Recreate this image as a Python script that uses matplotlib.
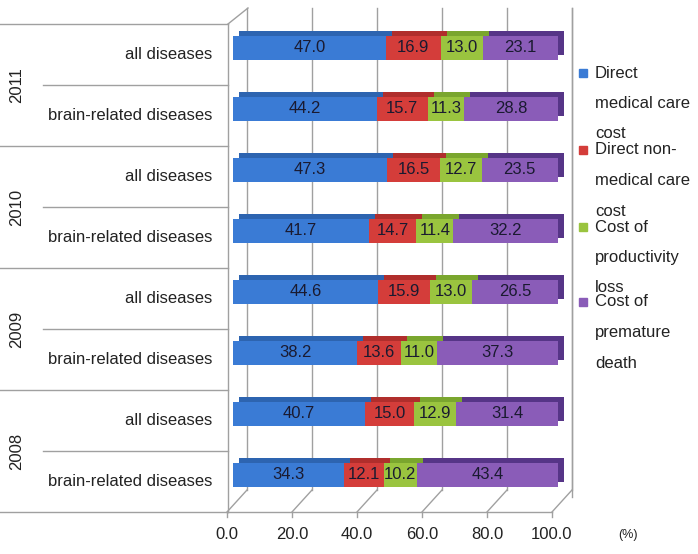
import matplotlib
matplotlib.use("Agg")
import matplotlib.pyplot as plt
import matplotlib.transforms as mtransforms
import numpy as np

plt.rcParams['font.family'] = ['Liberation Sans', 'DejaVu Sans']

years = ["2011", "2010", "2009", "2008"]
subcats = ["all diseases", "brain-related diseases"]
series = ["Direct medical care cost", "Direct non-medical care cost",
          "Cost of productivity loss", "Cost of premature death"]
legend_lines = [["Direct", "medical care", "cost"],
                ["Direct non-", "medical care", "cost"],
                ["Cost of", "productivity", "loss"],
                ["Cost of", "premature", "death"]]
# rows top to bottom: 2011 all, 2011 brain, 2010 all, ...
direct_medical = [47.0, 44.2, 47.3, 41.7, 44.6, 38.2, 40.7, 34.3]
direct_nonmedical = [16.9, 15.7, 16.5, 14.7, 15.9, 13.6, 15.0, 12.1]
productivity = [13.0, 11.3, 12.7, 11.4, 13.0, 11.0, 12.9, 10.2]
premature = [23.1, 28.8, 23.5, 32.2, 26.5, 37.3, 31.4, 43.4]
xticks = [0, 20, 40, 60, 80, 100]
xticklabels = ["0.0", "20.0", "40.0", "60.0", "80.0", "100.0"]

front = ['#3a7bd5', '#d43d3a', '#9ac43f', '#8a5cb8']
side = ['#2d64b0', '#b02e2c', '#7aa62e', '#563587']

W, H = 698, 554
fig = plt.figure(figsize=(W / 100, H / 100), dpi=100)
ax_left, ax_right, ax_top, ax_bot = 233, 558, 24, 512
ax = fig.add_axes([ax_left / W, (H - ax_bot) / H, (ax_right - ax_left) / W, (ax_bot - ax_top) / H])
ax.set_xlim(0, 100)
nrows = len(direct_medical)
ax.set_ylim(nrows, 0)
for s in ax.spines.values():
    s.set_visible(False)
ax.set_yticks([])
ax.set_xticks(xticks)
ax.set_xticklabels(xticklabels, fontsize=12, color='#222222')
ax.tick_params(axis='x', length=0, pad=11)
lab_off = mtransforms.ScaledTranslation(-6 / 100, 0, fig.dpi_scale_trans)
for lab in ax.get_xticklabels():
    lab.set_transform(lab.get_transform() + lab_off)

gridc = '#a0a0a0'
# back wall gridlines
back_off = mtransforms.ScaledTranslation(14 / 100, 0, fig.dpi_scale_trans)
btrans = mtransforms.blended_transform_factory(ax.transData, ax.transAxes) + back_off
y_back_bot = (ax_bot - 490) / (ax_bot - ax_top)
y_back_top = (ax_bot - 8) / (ax_bot - ax_top)
for t in xticks:
    ax.plot([t, t], [y_back_bot, y_back_top], transform=btrans, color=gridc, lw=1, clip_on=False, zorder=0)
# floor diagonals and front baseline
for t in xticks:
    x0 = ax.transData.transform((t, 0))[0] - 6
    y0 = H - ax_bot
    ax.plot([x0, x0 + 20], [y0, y0 + 22], transform=None, color=gridc, lw=1, clip_on=False, zorder=0)
    ax.plot([x0, x0], [y0, y0 - 5], transform=None, color=gridc, lw=1, clip_on=False, zorder=0)
ax.plot([ax.transData.transform((0, 0))[0] - 6, ax.transData.transform((100, 0))[0] - 6],
        [H - ax_bot, H - ax_bot], transform=None, color=gridc, lw=1, clip_on=False)
# left wall
lx = ax.transData.transform((0, 0))[0] - 5
ax.plot([lx, lx], [H - ax_bot, H - ax_top], transform=None, color=gridc, lw=1, clip_on=False)
ax.plot([lx, lx + 20], [H - ax_top, H - 8], transform=None, color=gridc, lw=1, clip_on=False)

# bars
data = [direct_medical, direct_nonmedical, productivity, premature]
ypos = np.arange(nrows) + 0.39
bh = 0.40
dep = mtransforms.ScaledTranslation(6 / 100, 5 / 100, fig.dpi_scale_trans)
left = np.zeros(nrows)
for k, vals in enumerate(data):
    vals = np.array(vals)
    ax.barh(ypos, vals, left=left, height=bh, color=side[k], edgecolor='none',
            transform=ax.transData + dep, zorder=2, clip_on=False)
    ax.barh(ypos, vals, left=left, height=bh, color=front[k], edgecolor='none', zorder=3)
    for y, l, v in zip(ypos, left, vals):
        ax.text(l + v / 2, y, f"{v:.1f}", ha='center', va='center', fontsize=12,
                color='#1a1a30', zorder=4)
    left = left + vals

# left category labels and separators
lt = mtransforms.blended_transform_factory(fig.transFigure, ax.transData)
for i in range(nrows + 1):
    x_start = 0 if i % 2 == 0 else 43 / W
    ax.plot([x_start, lx / W], [i, i], transform=lt, color=gridc, lw=1, clip_on=False)
for i in range(nrows):
    ax.text(212 / W, i + 0.5, subcats[i % 2], transform=lt, ha='right', va='center',
            fontsize=12, color='#222222')
for j, yr in enumerate(years):
    ax.text(17 / W, 2 * j + 1, yr, transform=lt, ha='center', va='center', rotation=90,
            fontsize=12, color='#222222')

# legend
fig.lines.append(plt.Line2D([572 / W, 572 / W], [(H - 497) / H, (H - 8) / H],
                            transform=fig.transFigure, color=gridc, lw=1))
entry_y = [73, 150, 227, 302]
for k in range(4):
    y0 = entry_y[k]
    fig.patches.append(plt.Rectangle(((583 - 4) / W, (H - y0 - 4) / H), 8 / W, 8 / H,
                                     transform=fig.transFigure, color=front[k]))
    for m, line in enumerate(legend_lines[k]):
        fig.text(595 / W, (H - (y0 + m * 30.5)) / H, line, ha='left', va='center',
                 fontsize=12, color='#222222')
fig.text(628 / W, (H - 535) / H, "(%)", ha='center', va='center', fontsize=9, color='#222222')

fig.savefig("out.png", dpi=100)
